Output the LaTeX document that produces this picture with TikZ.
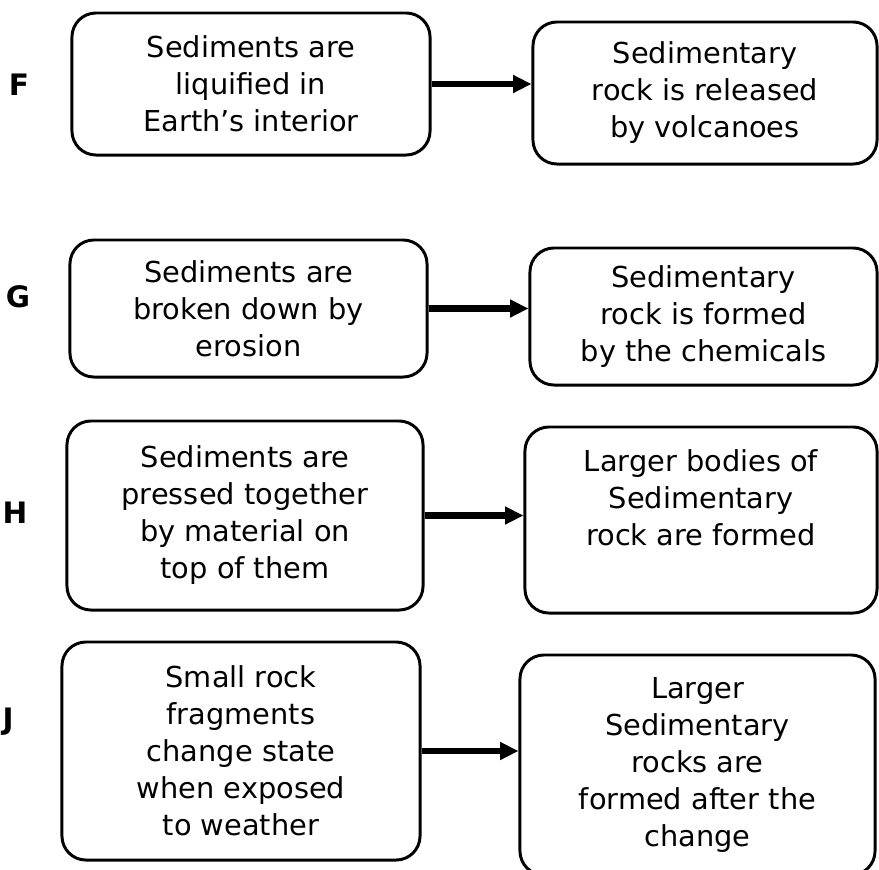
\documentclass[tikz,border=0pt]{standalone}
\usepackage{fontspec}
\setmainfont{DejaVu Sans}
\usetikzlibrary{arrows.meta,positioning}

\begin{document}
\begin{tikzpicture}[x=0.025cm,y=-0.025cm,
    stagebox/.style={draw, line width=2.1pt, rounded corners=0.6cm,
      align=center, inner sep=0pt,
      font=\fontsize{20.5}{26.3}\selectfont},
    stagetext/.style={align=center, inner sep=0pt,
      font=\fontsize{20.5}{26.3}\selectfont},
    rowletter/.style={font=\fontsize{21}{24}\selectfont\bfseries},
    steparrow/.style={line width=4.5pt, -{Triangle[length=13pt,width=12pt]}}]
  \useasboundingbox (0,0) rectangle (879,869);
  % Row F
  \node[rowletter] (rowF) at (19,85) {F};
  \node[stagebox, minimum width=8.95cm, minimum height=3.55cm] (F1) at (251,84)
    {Sediments are\\liquified in\\Earth’s interior};
  \node[stagebox, minimum width=8.6cm, minimum height=3.55cm] (F2) at (705,93)
    {Sedimentary\\rock is released\\by volcanoes};
  % Row G
  \node[rowletter] (rowG) at (18,297) {G};
  \node[stagebox, minimum width=8.925cm, minimum height=3.425cm] (G1) at (248.5,308.5)
    {Sediments are\\broken down by\\erosion};
  \node[stagebox, minimum width=8.675cm, minimum height=3.425cm] (G2) at (703.5,316.5)
    {Sedimentary\\rock is formed\\by the chemicals};
  % Row H
  \node[rowletter] (rowH) at (15,513) {H};
  \node[stagebox, minimum width=8.9cm, minimum height=4.725cm] (H1) at (245,515.5)
    {Sediments are\\pressed together\\by material on\\top of them};
  \node[stagebox, minimum width=8.8cm, minimum height=4.65cm] (H2) at (701,520) {};
  \node[stagetext] (H2text) at ([yshift=0.55cm]H2.center)
    {Larger bodies of\\Sedimentary\\rock are formed};
  % Row J
  \node[rowletter] (rowJ) at (8,722) {J};
  \node[stagebox, minimum width=8.95cm, minimum height=5.45cm] (J1) at (241,751)
    {Small rock\\fragments\\change state\\when exposed\\to weather};
  \node[stagebox, minimum width=8.875cm, minimum height=5.5cm] (J2) at (697.5,765)
    {Larger\\Sedimentary\\rocks are\\formed after the\\change};
  % Arrows
  \foreach \r in {F,G,H,J}
    \draw[steparrow] (\r1.east) -- (\r1.east -| \r2.west);
\end{tikzpicture}
\end{document}
